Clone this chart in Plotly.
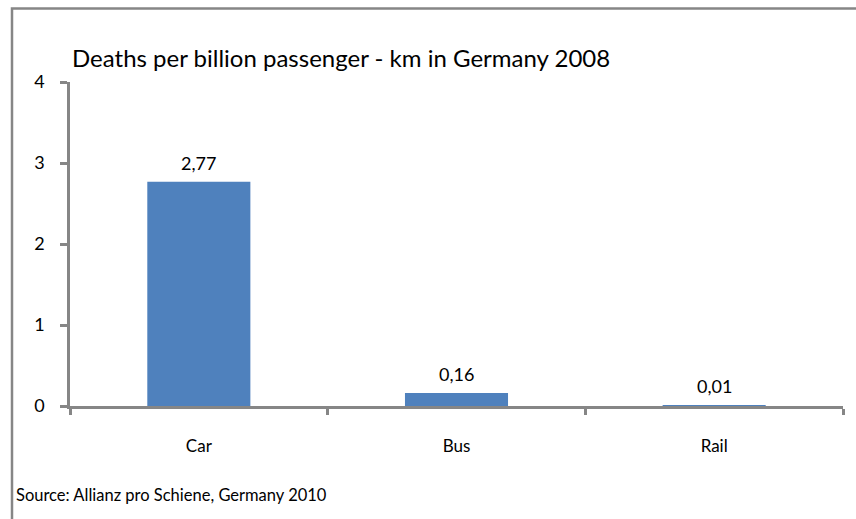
import plotly.graph_objects as go

categories = ["Car", "Bus", "Rail"]
deaths = [2.77, 0.16, 0.01]
y_ticks = [0, 1, 2, 3, 4]
title_text = "Deaths per billion passenger - km in Germany 2008"
source_text = "Source: Allianz pro Schiene, Germany 2010"

W, H = 856, 519
L, R, T, B = 70, 13, 82, 113
pw, ph = W - L - R, H - T - B

def px_x(x):
    return (x - L) / pw

def px_y(y):
    return (H - B - y) / ph

FONT = "Lato"
GRAY = "#868686"

fig = go.Figure()
fig.add_trace(go.Bar(
    x=categories, y=deaths,
    marker=dict(color="#4F81BD", line=dict(width=0)),
    width=0.4,
    hoverinfo="skip",
))

for c, v in zip(categories, deaths):
    fig.add_annotation(x=c, y=v, text=f"{v:.2f}".replace(".", ","),
                       showarrow=False, yanchor="bottom", yshift=6,
                       font=dict(family=FONT, size=18, color="#000000"))

fig.add_annotation(xref="paper", yref="paper", x=0, y=px_y(58),
                   text=title_text, showarrow=False, xanchor="left", yanchor="middle",
                   font=dict(family=FONT, size=24, color="#000000"))
fig.add_annotation(xref="paper", yref="paper", x=px_x(14), y=px_y(495),
                   text=source_text, showarrow=False, xanchor="left", yanchor="middle",
                   font=dict(family=FONT, size=16.5, color="#000000"))

fig.add_shape(type="rect", xref="paper", yref="paper",
              x0=px_x(12), x1=px_x(900), y0=px_y(600), y1=px_y(8.5),
              line=dict(color=GRAY, width=2.5), fillcolor="rgba(0,0,0,0)", layer="below")

fig.update_layout(
    width=W, height=H,
    margin=dict(l=L, r=R, t=T, b=B, pad=0),
    paper_bgcolor="white", plot_bgcolor="white",
    showlegend=False,
    font=dict(family=FONT, size=17, color="#000000"),
    bargap=0.6,
)
fig.update_xaxes(
    type="category", range=[-0.5, 2.5],
    showline=True, linecolor=GRAY, linewidth=2.5,
    ticks="outside", tickson="boundaries", ticklen=6, tickwidth=2.5, tickcolor=GRAY,
    showgrid=False, zeroline=False,
    ticklabelstandoff=23,
    tickfont=dict(family=FONT, size=17, color="#000000"),
)
fig.update_yaxes(
    range=[0, 4], tickvals=y_ticks, ticktext=[str(t) for t in y_ticks],
    showline=True, linecolor=GRAY, linewidth=2.5,
    ticks="outside", ticklen=7, tickwidth=2.5, tickcolor=GRAY,
    showgrid=False, zeroline=False,
    ticklabelstandoff=12,
    tickfont=dict(family=FONT, size=18, color="#000000"),
)

fig.write_html("out.html")
